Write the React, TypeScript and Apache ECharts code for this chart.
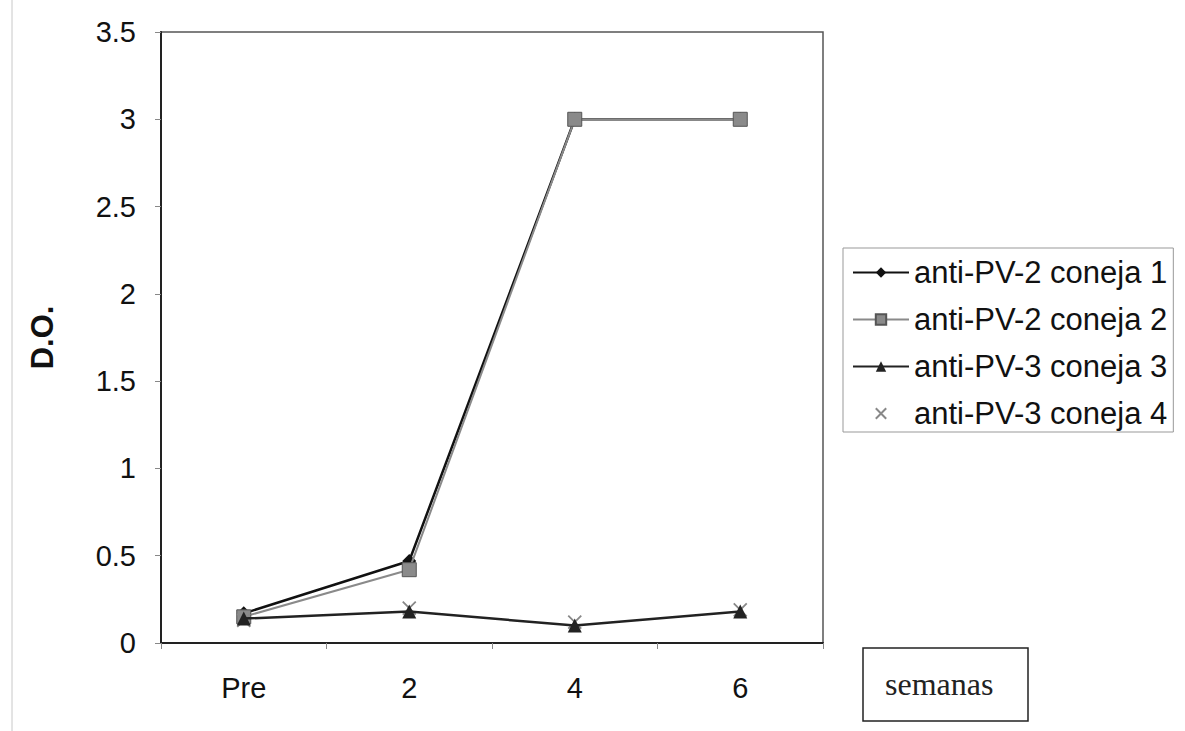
import React, { useEffect, useRef } from "react";
import * as echarts from "echarts";

const categories = ["Pre", "2", "4", "6"];
const seriesNames = [
  "anti-PV-2 coneja 1",
  "anti-PV-2 coneja 2",
  "anti-PV-3 coneja 3",
  "anti-PV-3 coneja 4",
];
const coneja1 = [0.17, 0.47, 3.0, 3.0];
const coneja2 = [0.15, 0.42, 3.0, 3.0];
const coneja3 = [0.14, 0.18, 0.1, 0.18];
const coneja4 = [0.13, 0.2, 0.12, 0.19];

export default function App() {
  const ref = useRef<HTMLDivElement>(null);
  useEffect(() => {
    if (!ref.current) return;
    const chart = echarts.init(ref.current, null, { renderer: "svg" });
    const font = "Liberation Sans, Arial, sans-serif";
    chart.setOption({
      animation: false,
      backgroundColor: "#ffffff",
      grid: {
        left: 161,
        right: 362,
        top: 32,
        bottom: 88,
        show: true,
        borderColor: "#555",
        borderWidth: 1.5,
      },
      xAxis: {
        type: "category",
        data: categories,
        boundaryGap: true,
        axisLine: { lineStyle: { color: "#222", width: 2 } },
        axisTick: { show: true, length: 6, lineStyle: { color: "#888", width: 1 } },
        axisLabel: { fontFamily: font, fontSize: 29, color: "#111", margin: 30 },
        splitLine: { show: false },
      },
      yAxis: {
        type: "value",
        min: 0,
        max: 3.5,
        interval: 0.5,
        name: "D.O.",
        nameLocation: "middle",
        nameRotate: 90,
        nameGap: 103,
        nameTextStyle: { fontFamily: font, fontSize: 31, fontWeight: "bold", color: "#111" },
        axisLine: { show: true, lineStyle: { color: "#222", width: 2 } },
        axisTick: { show: true, length: 6, lineStyle: { color: "#888", width: 1 } },
        axisLabel: { fontFamily: font, fontSize: 29, color: "#111", margin: 25 },
        splitLine: { show: false },
      },
      legend: {
        orient: "vertical",
        left: 843,
        top: 248,
        padding: [8, 6, 2, 9],
        itemWidth: 56,
        itemHeight: 13,
        itemGap: 14,
        textStyle: { fontFamily: font, fontSize: 31, color: "#111", lineHeight: 33 },
        borderColor: "#999",
        borderWidth: 1,
        data: seriesNames,
      },
      series: [
        {
          name: seriesNames[0],
          type: "line",
          data: coneja1,
          symbol: "diamond",
          symbolSize: 14,
          z: 2,
          lineStyle: { color: "#111", width: 2.5 },
          itemStyle: { color: "#111" },
        },
        {
          name: seriesNames[1],
          type: "line",
          data: coneja2,
          symbol: "rect",
          symbolSize: 14,
          z: 3,
          lineStyle: { color: "#8a8a8a", width: 2 },
          itemStyle: { color: "#8a8a8a", borderColor: "#555", borderWidth: 1 },
        },
        {
          name: seriesNames[3],
          type: "line",
          data: coneja4,
          symbol: "path://M0,0 L10,10 M10,0 L0,10",
          symbolSize: 13,
          z: 4,
          lineStyle: { width: 0, opacity: 0 },
          itemStyle: { color: "none", borderColor: "#888", borderWidth: 1.8 },
        },
        {
          name: seriesNames[2],
          type: "line",
          data: coneja3,
          symbol: "triangle",
          symbolSize: 14,
          z: 5,
          lineStyle: { color: "#222", width: 2.5 },
          itemStyle: { color: "#222" },
        },
      ],
      graphic: [
        {
          type: "line",
          shape: { x1: 12, y1: 0, x2: 12, y2: 731 },
          style: { stroke: "#c8c8c8", lineWidth: 1 },
          silent: true,
        },
        {
          type: "rect",
          shape: { x: 863, y: 648, width: 165, height: 73 },
          style: { fill: "#fff", stroke: "#222", lineWidth: 1.5 },
        },
        {
          type: "text",
          x: 885,
          y: 684,
          style: {
            text: "semanas",
            fontFamily: "Liberation Serif, Times New Roman, serif",
            fontSize: 32,
            fill: "#222",
            verticalAlign: "middle",
            align: "left",
          },
        },
      ],
    });
    return () => chart.dispose();
  }, []);
  return (
    <div
      ref={ref}
      style={{ position: "absolute", left: 0, top: 0, width: 1185, height: 731 }}
    />
  );
}
